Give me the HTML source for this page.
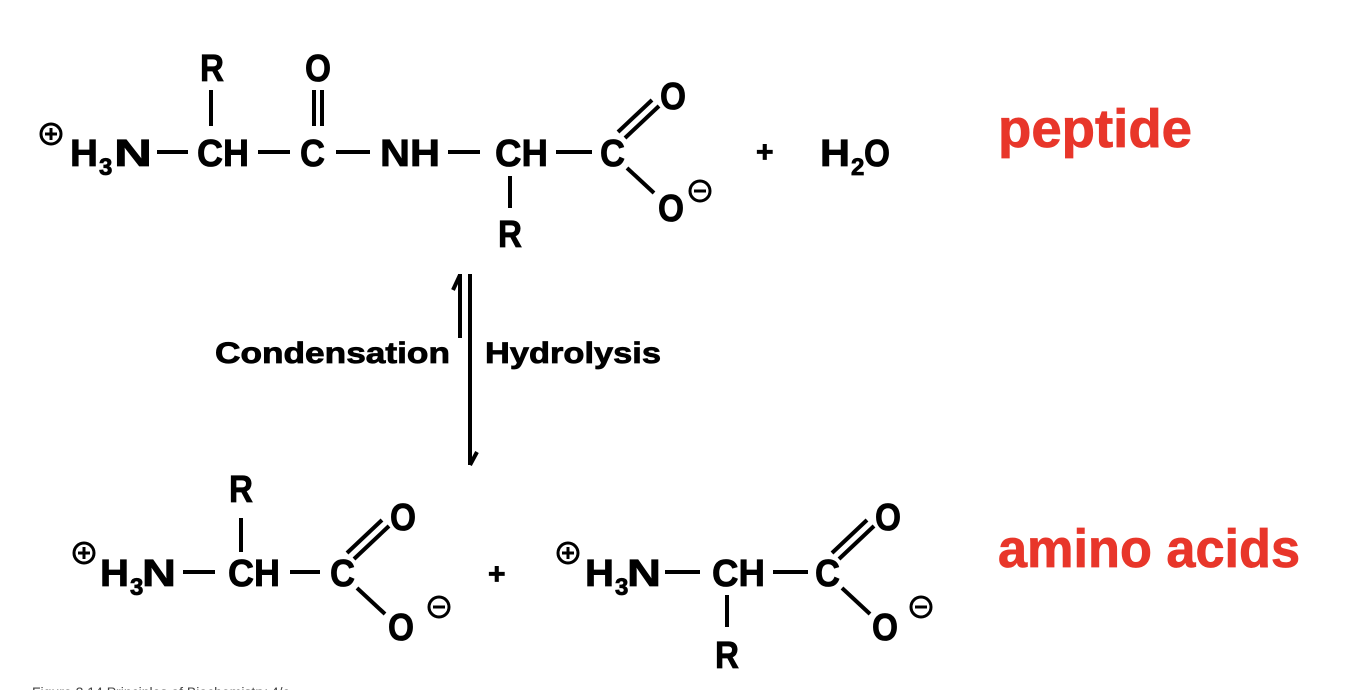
<!DOCTYPE html>
<html><head><meta charset="utf-8"><style>
html,body{margin:0;padding:0;background:#fff;width:1360px;height:690px;overflow:hidden}
svg{display:block}
text{font-family:"Liberation Sans",sans-serif;font-weight:bold;fill:#000;stroke:#000;stroke-width:0.8}
.r{fill:#e8362a;stroke:#e8362a}
</style></head><body>
<svg width="1360" height="690" viewBox="0 0 1360 690" xmlns="http://www.w3.org/2000/svg">
<g stroke="#000" stroke-width="4" fill="none">
<line x1="157" y1="152" x2="188" y2="152"/>
<line x1="258" y1="152" x2="290" y2="152"/>
<line x1="336" y1="152" x2="370" y2="152"/>
<line x1="448" y1="152" x2="480" y2="152"/>
<line x1="556" y1="152" x2="592" y2="152"/>
<line x1="211" y1="90" x2="211" y2="126"/>
<line x1="314" y1="90" x2="314" y2="126"/>
<line x1="322" y1="90" x2="322" y2="126"/>
<line x1="510" y1="176" x2="510" y2="208"/>
<line x1="618" y1="132" x2="652" y2="100"/>
<line x1="625" y1="138" x2="659" y2="106"/>
<line x1="627" y1="168" x2="654" y2="193"/>
<line x1="460" y1="274" x2="460" y2="338"/>
<line x1="460" y1="275" x2="453" y2="290"/>
<line x1="470" y1="274" x2="470" y2="465"/>
<line x1="470" y1="465" x2="477" y2="452"/>
<line x1="183" y1="572" x2="215" y2="572"/>
<line x1="290" y1="572" x2="320" y2="572"/>
<line x1="241" y1="518" x2="241" y2="552"/>
<line x1="347" y1="553" x2="382" y2="520"/>
<line x1="354" y1="559" x2="389" y2="526"/>
<line x1="357" y1="588" x2="385" y2="614"/>
<line x1="665" y1="572" x2="700" y2="572"/>
<line x1="773" y1="572" x2="808" y2="572"/>
<line x1="727" y1="595" x2="727" y2="627"/>
<line x1="832" y1="553" x2="867" y2="520"/>
<line x1="839" y1="559" x2="874" y2="526"/>
<line x1="842" y1="588" x2="870" y2="614"/>
</g>
<g stroke="#000" stroke-width="3" fill="none">
<circle cx="51" cy="134" r="10"/><line x1="45" y1="134" x2="57" y2="134"/><line x1="51" y1="128" x2="51" y2="140"/>
<circle cx="700" cy="191" r="10"/><line x1="694" y1="191" x2="706" y2="191"/>
<circle cx="84" cy="553" r="10"/><line x1="78" y1="553" x2="90" y2="553"/><line x1="84" y1="547" x2="84" y2="559"/>
<circle cx="439" cy="607" r="10"/><line x1="433" y1="607" x2="445" y2="607"/>
<circle cx="568" cy="553" r="10"/><line x1="562" y1="553" x2="574" y2="553"/><line x1="568" y1="547" x2="568" y2="559"/>
<circle cx="921" cy="607" r="10"/><line x1="915" y1="607" x2="927" y2="607"/>
</g>
<g font-size="38">
<text x="70" y="166" textLength="28" lengthAdjust="spacingAndGlyphs">H</text>
<text x="99" y="175" font-size="24">3</text>
<text x="114" y="166" textLength="38" lengthAdjust="spacingAndGlyphs">N</text>
<text x="197" y="166" textLength="52" lengthAdjust="spacingAndGlyphs">CH</text>
<text x="200" y="81" textLength="24" lengthAdjust="spacingAndGlyphs">R</text>
<text x="305" y="81" textLength="26" lengthAdjust="spacingAndGlyphs">O</text>
<text x="300" y="166" textLength="25" lengthAdjust="spacingAndGlyphs">C</text>
<text x="380" y="166" textLength="60" lengthAdjust="spacingAndGlyphs">NH</text>
<text x="495" y="166" textLength="53" lengthAdjust="spacingAndGlyphs">CH</text>
<text x="498" y="247" textLength="24" lengthAdjust="spacingAndGlyphs">R</text>
<text x="600" y="166" textLength="25" lengthAdjust="spacingAndGlyphs">C</text>
<text x="660" y="109" textLength="26" lengthAdjust="spacingAndGlyphs">O</text>
<text x="658" y="221" textLength="26" lengthAdjust="spacingAndGlyphs">O</text>
<text x="756" y="162" font-size="30">+</text>
<text x="820" y="166" textLength="30" lengthAdjust="spacingAndGlyphs">H</text>
<text x="851" y="175" font-size="24">2</text>
<text x="864" y="166" textLength="26" lengthAdjust="spacingAndGlyphs">O</text>

<text x="100" y="586" textLength="29" lengthAdjust="spacingAndGlyphs">H</text>
<text x="130" y="595" font-size="24">3</text>
<text x="142" y="586" textLength="34" lengthAdjust="spacingAndGlyphs">N</text>
<text x="228" y="586" textLength="52" lengthAdjust="spacingAndGlyphs">CH</text>
<text x="229" y="502" textLength="24" lengthAdjust="spacingAndGlyphs">R</text>
<text x="330" y="586" textLength="25" lengthAdjust="spacingAndGlyphs">C</text>
<text x="390" y="530" textLength="26" lengthAdjust="spacingAndGlyphs">O</text>
<text x="388" y="640" textLength="26" lengthAdjust="spacingAndGlyphs">O</text>
<text x="488" y="584" font-size="30">+</text>
<text x="585" y="586" textLength="29" lengthAdjust="spacingAndGlyphs">H</text>
<text x="615" y="595" font-size="24">3</text>
<text x="627" y="586" textLength="34" lengthAdjust="spacingAndGlyphs">N</text>
<text x="712" y="586" textLength="53" lengthAdjust="spacingAndGlyphs">CH</text>
<text x="715" y="668" textLength="24" lengthAdjust="spacingAndGlyphs">R</text>
<text x="815" y="586" textLength="25" lengthAdjust="spacingAndGlyphs">C</text>
<text x="875" y="530" textLength="26" lengthAdjust="spacingAndGlyphs">O</text>
<text x="872" y="640" textLength="26" lengthAdjust="spacingAndGlyphs">O</text>
</g>
<text x="215" y="363" font-size="30" textLength="235" lengthAdjust="spacingAndGlyphs">Condensation</text>
<text x="485" y="363" font-size="30" textLength="176" lengthAdjust="spacingAndGlyphs">Hydrolysis</text>
<text class="r" x="998" y="147" font-size="54" textLength="194" lengthAdjust="spacingAndGlyphs">peptide</text>
<text class="r" x="998" y="567" font-size="54" textLength="302" lengthAdjust="spacingAndGlyphs">amino acids</text>
<text x="32" y="697" font-size="14" style="font-weight:normal;fill:#444;stroke:none">Figure 2.14 Principles of Biochemistry 4/e</text>
</svg>
</body></html>
